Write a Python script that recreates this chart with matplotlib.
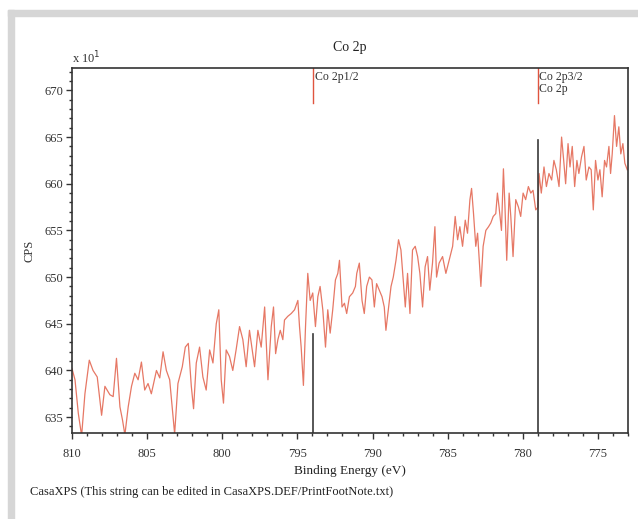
import matplotlib.pyplot as plt
from matplotlib.patches import Rectangle
from matplotlib.ticker import MultipleLocator

# Co 2p survey region (binding energy in eV, counts in CPS x 10)
energy = [810.0, 809.8, 809.58, 809.36, 809.14, 808.85, 808.6, 808.32, 808.03, 807.81,
          807.48, 807.26, 807.04, 806.81, 806.64, 806.48, 806.26, 806.04, 805.82, 805.6,
          805.38, 805.16, 804.94, 804.72, 804.38, 804.16, 803.94, 803.72, 803.5, 803.17,
          802.95, 802.66, 802.46, 802.26, 802.06, 801.91, 801.73, 801.51, 801.29, 801.07,
          800.84, 800.62, 800.4, 800.23, 800.07, 799.92, 799.74, 799.52, 799.3, 799.08,
          798.85, 798.63, 798.41, 798.19,
          798.07, 797.85, 797.63, 797.41, 797.18, 797.07, 796.96, 796.74, 796.59, 796.45,
          796.3, 796.14, 795.97, 795.86, 795.64, 795.41, 795.19, 794.97, 794.86, 794.75,
          794.6, 794.46, 794.31, 794.15, 793.98, 793.8, 793.64, 793.49, 793.31, 793.13,
          792.98, 792.82, 792.65, 792.47, 792.31, 792.2, 792.03, 791.87, 791.72, 791.54,
          791.32, 791.14, 791.05, 790.88, 790.7, 790.55, 790.39, 790.21, 790.04, 789.88,
          789.73, 789.55, 789.37, 789.22, 789.11, 788.93, 788.77, 788.62, 788.44, 788.27,
          788.11, 787.96, 787.82, 787.67, 787.51, 787.34, 787.16, 787.0, 786.85, 786.67,
          786.5, 786.34, 786.19, 786.01, 785.85, 785.74, 785.57,
          785.34, 785.12, 784.9, 784.67, 784.5, 784.34, 784.19, 784.01, 783.83, 783.68,
          783.52, 783.41, 783.28, 783.13, 783.01, 782.9, 782.79, 782.64, 782.46, 782.28,
          782.13, 781.97, 781.8, 781.69, 781.58, 781.42, 781.29, 781.18, 781.07, 780.91,
          780.8, 780.65, 780.47, 780.29, 780.14, 779.98, 779.81, 779.63, 779.47, 779.32,
          779.14, 778.99, 778.92, 778.77, 778.59, 778.43, 778.26, 778.08, 777.93, 777.77,
          777.59, 777.42, 777.28, 777.15, 776.99, 776.86, 776.71, 776.55, 776.4, 776.27,
          776.09, 775.93, 775.78, 775.6, 775.45, 775.31, 775.16, 775.0, 774.87, 774.72,
          774.56, 774.43, 774.27, 774.16, 774.05, 773.9, 773.76, 773.61, 773.48, 773.34,
          773.21, 773.05]
cps = [640.2, 639.0, 635.4, 633.0, 637.5, 641.1, 640.0, 639.3, 635.2, 638.3,
       637.4, 637.2, 641.3, 636.1, 634.7, 633.1, 636.1, 638.3, 639.7, 639.0,
       640.9, 637.9, 638.6, 637.5, 640.0, 639.2, 642.0, 640.0, 639.0, 633.2,
       638.6, 640.4, 642.5, 642.9, 638.3, 635.9, 640.8, 642.5, 639.3, 637.9,
       642.2, 640.8, 645.0, 646.5, 639.0, 636.5, 642.2, 641.5, 640.0, 642.2,
       644.7, 643.3, 640.4, 644.3,
       642.9, 640.4, 644.3, 642.5, 646.8, 642.9, 639.0, 644.7, 646.8, 641.8,
       643.3, 644.3, 643.3, 645.4, 645.8, 646.1, 646.5, 647.5, 644.7, 642.5,
       638.4, 644.7, 650.4, 647.5, 648.3, 644.7, 647.9, 649.0, 646.5, 642.5,
       646.5, 644.0, 646.5, 649.7, 650.4, 651.8, 646.8, 647.2, 646.1, 647.9,
       648.3, 649.0, 650.4, 651.5, 647.5, 646.1, 649.0, 650.0, 649.7, 646.8,
       649.3, 648.6, 647.9, 646.8, 644.3, 646.8, 649.0, 650.0, 651.8, 654.0,
       652.9, 649.7, 646.8, 650.4, 646.1, 652.9, 653.3, 652.2, 650.4, 646.8,
       651.1, 652.2, 648.6, 651.5, 655.4, 650.0, 651.5,
       652.2, 650.4, 651.8, 653.3, 656.5, 654.0, 655.4, 653.3, 656.1, 654.7,
       658.3, 659.5, 656.8, 653.3, 654.7, 651.8, 649.0, 653.3, 655.0, 655.4,
       655.8, 656.5, 656.8, 659.0, 657.5, 655.0, 661.6, 657.2, 651.8, 659.0,
       656.5, 652.2, 658.3, 657.5, 656.5, 659.0, 658.3, 659.7, 659.0, 659.3,
       657.2, 657.5, 661.1, 659.0, 661.8, 659.7, 661.1, 660.4, 662.5, 661.5,
       659.7, 665.0, 662.5, 660.0, 664.3, 661.8, 664.0, 659.7, 662.5, 661.1,
       662.9, 664.0, 660.4, 661.8, 661.5, 657.2, 662.5, 660.4, 661.5, 658.6,
       662.5, 661.8, 664.0, 661.1, 663.2, 667.3, 664.0, 666.1, 663.2, 664.3,
       662.2, 661.5]

# peak markers: position, top of the black line, label
peak_pos = [793.95, 779.0]
peak_top = [643.9, 664.7]
peak_names = ["Co 2p1/2", "Co 2p3/2\nCo 2p"]

plt.rcParams['font.family'] = ['Liberation Serif', 'DejaVu Serif']

fig = plt.figure(figsize=(6.38, 5.19), dpi=100)

# light grey frame along the top and left edge
fig.patches.append(Rectangle((8 / 638, 0), 6 / 638, 1 - 10 / 519, transform=fig.transFigure,
                             color='#d6d6d6', zorder=0))
fig.patches.append(Rectangle((8 / 638, 1 - 16 / 519), 1, 6 / 519, transform=fig.transFigure,
                             color='#d6d6d6', zorder=0))

ax = fig.add_axes([72 / 638, 86 / 519, 556 / 638, 365 / 519])
ylo, yhi = 633.3, 672.4
ax.plot(energy, cps, color='#e2604a', lw=0.9, alpha=0.85)

for p, t, name in zip(peak_pos, peak_top, peak_names):
    ax.plot([p, p], [ylo, t], color='#3a3a3a', lw=1.2)
    ax.plot([p, p], [668.6, yhi], color='#e0543f', lw=1.0)
    ax.text(p - 0.1, yhi - 0.3, name, fontsize=8.5, va='top', ha='left',
            color='#333333', linespacing=1.05)

ax.set_xlim(810, 773)
ax.set_ylim(ylo, yhi)
ax.xaxis.set_major_locator(MultipleLocator(5))
ax.xaxis.set_minor_locator(MultipleLocator(1))
ax.yaxis.set_major_locator(MultipleLocator(5))
ax.yaxis.set_minor_locator(MultipleLocator(1))
ax.tick_params(which='major', direction='out', length=4, width=1, labelsize=9,
               colors='#333333', pad=2)
ax.tick_params(axis='x', which='major', pad=6.5)
ax.tick_params(which='minor', direction='out', length=2.5, width=1, colors='#333333')
for s in ax.spines.values():
    s.set_color('#333333')
    s.set_linewidth(1.2)

ax.set_title("Co 2p", fontsize=10, pad=12, color='#222222')
ax.text(0.0, 1.005, "x 10$^{1}$", transform=ax.transAxes, fontsize=9,
        ha='left', va='bottom', color='#333333')
ax.set_ylabel("CPS", fontsize=9, color='#333333', labelpad=7)
ax.set_xlabel("Binding Energy (eV)", fontsize=9.5, color='#222222', labelpad=4)
fig.text(30 / 638, 1 - 492 / 519, "CasaXPS (This string can be edited in CasaXPS.DEF/PrintFootNote.txt)",
         fontsize=9, ha='left', va='center', color='#222222')

fig.savefig("out.png", dpi=100)
